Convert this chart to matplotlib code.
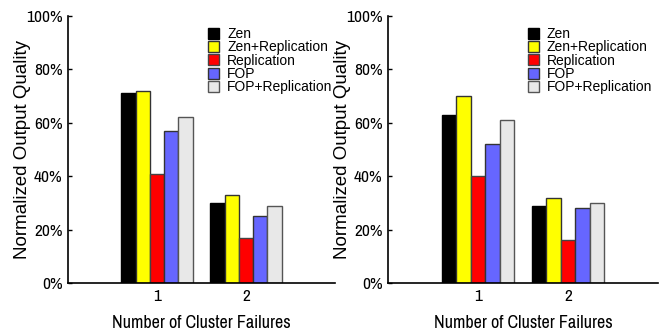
import numpy as np
import matplotlib
matplotlib.use("Agg")
import matplotlib.pyplot as plt
from matplotlib import font_manager
from matplotlib.font_manager import FontProperties

plt.rcParams["font.family"] = ["Liberation Sans", "DejaVu Sans"]

groups = ["1", "2"]
series = ["Zen", "Zen+Replication", "Replication", "FOP", "FOP+Replication"]
colors = ["#000000", "#ffff00", "#ff0000", "#6666ff", "#e8e8e8"]
edges = ["#000000", "#333333", "#444444", "#333333", "#555555"]
yticks = [0, 20, 40, 60, 80, 100]

# quality per series, one row per series, columns = cluster failures
left_vals = [
    [71, 30],
    [72, 33],
    [41, 17],
    [57, 25],
    [62, 29],
]
right_vals = [
    [63, 29],
    [70, 32],
    [40, 16],
    [52, 28],
    [61, 30],
]


def find_narrow():
    # a Helvetica-Narrow-like face if one is installed
    for f in font_manager.fontManager.ttflist:
        if f.style != "normal" or f.weight not in (400, "normal", "regular"):
            continue
        if "DejaVu" in f.name:
            continue
        if "Narrow" in f.name or "Narrow" in f.fname:
            return f.fname
    return None


narrow_file = find_narrow()
if narrow_file:
    fp_tick = FontProperties(fname=narrow_file, size=12.5)
    fp_xlab = FontProperties(fname=narrow_file, size=13)
else:
    fp_tick = FontProperties(family="Liberation Sans", size=11)
    fp_xlab = FontProperties(family="Liberation Sans", size=10.5)

fig = plt.figure(figsize=(6.7, 3.33), dpi=100)
ax1 = fig.add_axes([68 / 670, 50 / 333, 267 / 670, 267 / 333])
ax2 = fig.add_axes([388 / 670, 50 / 333, 270 / 670, 267 / 333])

width = 0.16
x = np.arange(1, len(groups) + 1)

for ax, vals, leg_x in [(ax1, left_vals, 1.022), (ax2, right_vals, 1.01)]:
    for i, (name, v) in enumerate(zip(series, vals)):
        ax.bar(x + (i - 2) * width, v, width, color=colors[i],
               edgecolor=edges[i], linewidth=1.0, label=name)
    ax.set_xlim(0, 3)
    ax.set_ylim(0, 100)
    ax.set_xticks(x, labels=groups, fontproperties=fp_tick)
    ax.set_yticks(yticks, labels=[f"{t}%" for t in yticks], fontproperties=fp_tick)
    ax.tick_params(axis="y", direction="in", length=3, width=1, pad=4)
    ax.tick_params(axis="x", length=0, pad=4)
    ax.spines["top"].set_visible(False)
    ax.spines["right"].set_visible(False)
    ax.spines["left"].set_linewidth(1.2)
    ax.spines["bottom"].set_linewidth(1.2)
    ax.set_ylabel("Normalized Output Quality", fontsize=13.5)
    ax.yaxis.set_label_coords(-37 / ax.bbox.width, 0.5)
    ax.set_xlabel("Number of Cluster Failures", fontproperties=fp_xlab,
                  labelpad=8)
    ax.legend(loc="upper right", bbox_to_anchor=(leg_x, 0.99), frameon=False,
              fontsize=10, handlelength=0.75, handleheight=0.85,
              handletextpad=0.6, labelspacing=-0.05, borderaxespad=0.2)

fig.savefig("out.png", dpi=100)
